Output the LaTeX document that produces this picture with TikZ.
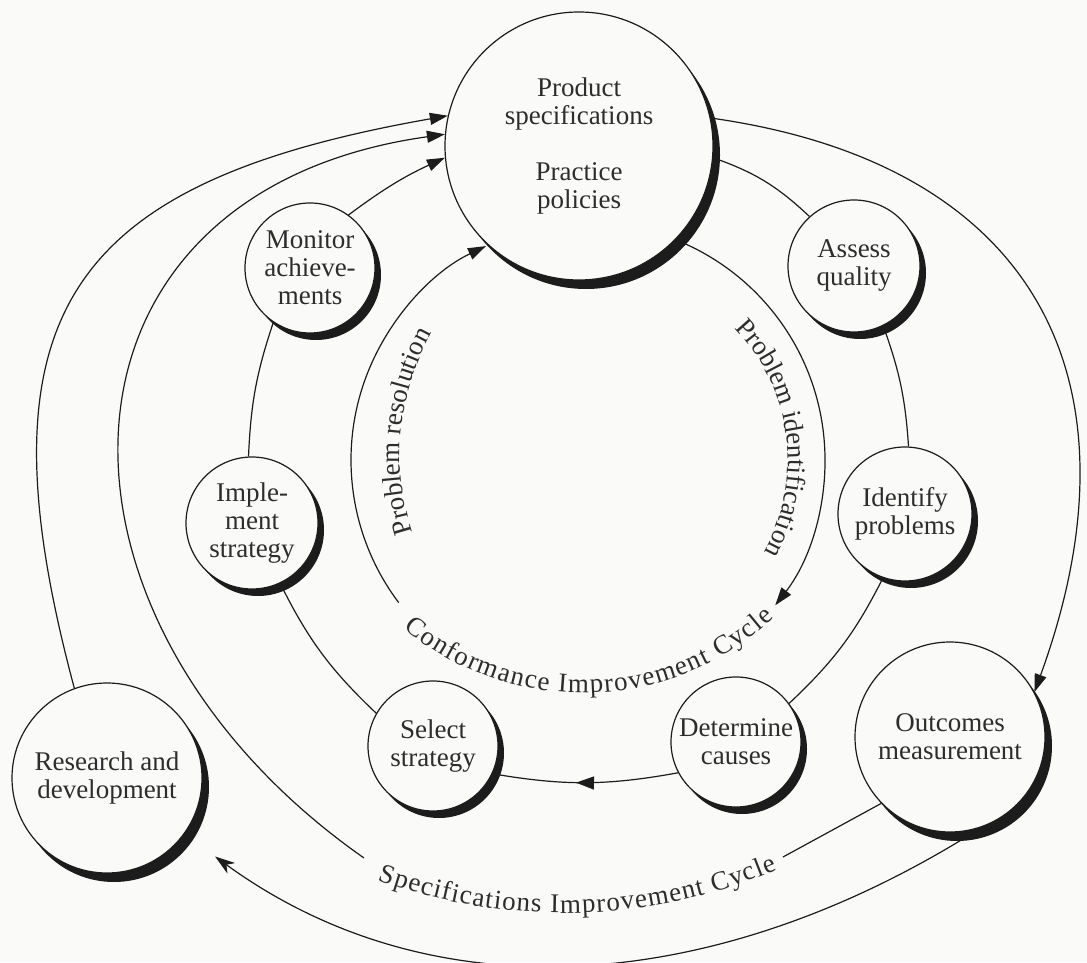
\documentclass[tikz,border=0pt]{standalone}
\usepackage{fontspec}
\setmainfont{Liberation Serif}
\usetikzlibrary{arrows.meta,decorations.text,decorations.markings,shadows}
\definecolor{bgc}{RGB}{250,250,249}
\definecolor{linec}{RGB}{28,28,28}
\definecolor{textc}{RGB}{45,45,45}
\newcommand\cyclefont{\fontsize{27}{28}\selectfont}
\pgfdeclarelayer{paper}
\pgfdeclarelayer{back}
\pgfsetlayers{paper,back,main}
\tikzset{
  stagebase/.style={circle, draw=linec, line width=1.2pt, fill=bgc, inner sep=0pt,
    align=center, text=textc, font=\cyclefont},
  stage/.style={stagebase, general shadow={fill=linec, shadow xshift=6pt, shadow yshift=-7pt}},
  bigstage/.style={stagebase, general shadow={fill=linec, shadow xshift=7pt, shadow yshift=-9pt}},
  link/.style={draw=linec, line width=1.2pt},
  tip/.style={-{Triangle[length=18pt,width=12pt]}},
  barb/.style={-{Stealth[length=20pt,width=13pt,inset=6pt]}},
  midtip/.style={postaction={decorate}, decoration={markings,
    mark=at position #1 with {\arrow{Triangle[length=18pt,width=13pt]}}}},
  curved/.style={decorate, decoration={text along path, text={|\cyclefont|#1},
    text align=center, text color=textc}},
  spread/.style={decorate, decoration={text along path, text={|\cyclefont|#1},
    text align=fit to path, text color=textc}}
}
\begin{document}
\begin{tikzpicture}[x=1pt,y=1pt]
\begin{pgfonlayer}{paper}
  \fill[bgc] (0,0) rectangle (1087,962);
\end{pgfonlayer}
\useasboundingbox (0,0) rectangle (1087,962);

% stages of the two cycles
\node[bigstage, minimum size=268pt] (P) at (579,816) {Product\\specifications\\[28pt]Practice\\policies};
\node[stage, minimum size=130pt] (M) at (310,694) {Monitor\\achieve-\\ments};
\node[stage, minimum size=132pt] (A) at (854,696) {Assess\\quality};
\node[stage, minimum size=134pt] (I) at (905,448) {Identify\\problems};
\node[stage, minimum size=130pt] (D) at (736,220) {Determine\\causes};
\node[stage, minimum size=130pt] (S) at (433,216) {Select\\strategy};
\node[stage, minimum size=132pt] (Im) at (252,439) {Imple-\\ment\\strategy};
\node[bigstage, minimum size=190pt] (O) at (950,225) {Outcomes\\measurement};
\node[bigstage, minimum size=190pt] (R) at (107,184) {Research and\\development};

% centres of the circular labels and arcs
\coordinate (ic) at (588,502);
\coordinate (pc) at (598,502);
\coordinate (rc) at (650,507);
\coordinate (tc) at (583,549);
\coordinate (sc) at (564,594);
\coordinate (res0) at ([shift={(217:237)}]ic);
\coordinate (idn0) at ([shift={(66:237)}]ic);
\coordinate (s1) at (783,105);
\coordinate (s2) at (364,104);

\begin{pgfonlayer}{back}
  % conformance improvement cycle
  \draw[link] (P.-5) to[bend left=12] (A.132);
  \draw[link] (A.-64) to[bend left=8] (I.87);
  \draw[link] (I.-109) to[bend left=10] (D.36);
  \draw[link, midtip=0.55] (D.-152) to[bend left=10] (S.-25);
  \draw[link] (S.150) to[bend left=10] (Im.-65);
  \draw[link] (Im.93) to[bend left=8] (M.236);
  \draw[link, tip] (M.54) to[bend left=6] (P.185);

  % problem identification / resolution
  \draw[link, tip] (res0) arc[start angle=217, end angle=115.5, radius=237];
  \draw[link, tip] (idn0) arc[start angle=66, end angle=-37.8, radius=237];

  % specifications improvement cycle
  \draw[link, tip] (P.12) to[out=-8, in=70, looseness=1.28] (O.28);
  \draw[link, barb, shorten >=38pt] (O.-42) to[out=215, in=-36, looseness=1] (R.-36);
  \draw[link] (O.224) -- (s1);
  \draw[link, tip] (s2) to[out=145, in=188, looseness=1.47] (P.175);
  \draw[link, tip] (R.110) to[out=105, in=190, looseness=1.45] (P.167);
\end{pgfonlayer}

% texts set along the cycles
\path[curved={Problem resolution}] ([shift={(204.4:250)}]rc) arc[start angle=204.4, end angle=144.4, radius=250];
\path[curved={Problem identification}] ([shift={(57.4:190)}]pc) arc[start angle=57.4, end angle=-42.6, radius=190];
\path[spread={Conformance Improvement Cycle}] ([shift={(230.2:280)}]tc) arc[start angle=230.2, end angle=313, radius=280];
\path[spread={Specifications Improvement Cycle}] ([shift={(250:545)}]sc) arc[start angle=250, end angle=293, radius=545];
\end{tikzpicture}
\end{document}
